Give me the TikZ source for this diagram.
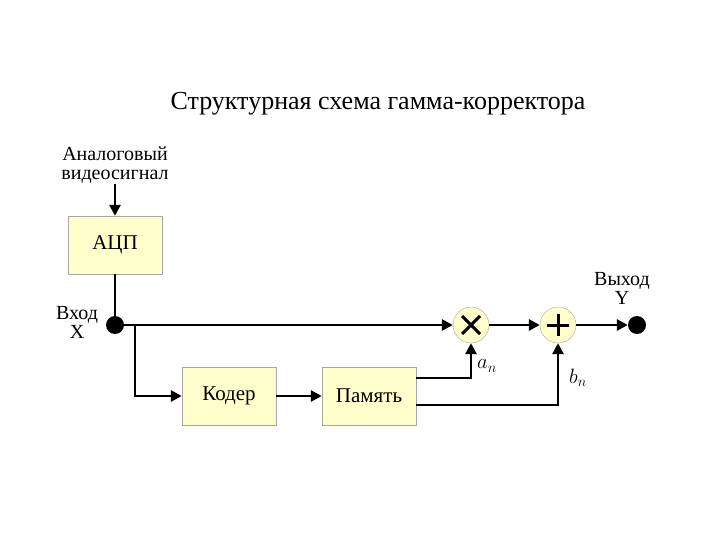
\documentclass[tikz,border=0pt]{standalone}
\usepackage{fontspec}
\setmainfont{Liberation Serif}
\usetikzlibrary{arrows.meta}
\definecolor{boxfill}{RGB}{255,255,204}
\begin{document}
\begin{tikzpicture}[x=1pt,y=-1pt,
 blk/.style={draw=gray!70,fill=boxfill,minimum width=94pt,minimum height=58pt,font=\fontsize{21}{23}\selectfont},
 op/.style={circle,draw=gray!70,fill=boxfill,minimum size=36pt,inner sep=0pt},
 lbl/.style={font=\fontsize{20}{19}\selectfont,align=center,inner sep=1pt},
 ln/.style={line width=2.8pt},
 arr/.style={ln,-{Triangle[length=11pt,width=11pt]}},
 dot/.style={circle,fill=black,minimum size=18pt,inner sep=0pt}]
\useasboundingbox (0,0) rectangle (720,540);
\node[font=\fontsize{26}{28}\selectfont] (title) at (378,104) {Структурная схема гамма-корректора};
\node[lbl] (src) at (115,165) {Аналоговый\\видеосигнал};
\node[blk] (adc) at (115,245) {АЦП};
\node[dot] (in) at (115,325) {};
\node[lbl] (inl) at (77,322) {Вход\\X};
\node[op] (mul) at (471,325) {};
\draw[line width=3pt] (mul.center)++(-9,-9) -- ++(18,18) (mul.center)++(-9,9) -- ++(18,-18);
\node[op] (sum) at (558,325) {};
\draw[line width=3pt] (sum.center)++(-11,0) -- ++(22,0) (sum.center)++(0,-11) -- ++(0,22);
\node[dot] (out) at (637,325) {};
\node[lbl] (outl) at (622,288) {Выход\\Y};
\node[blk] (cod) at (229,396) {Кодер};
\node[blk] (mem) at (369,396) {Память};
\node[lbl] (an) at (487,366) {$a_n$};
\node[lbl] (bn) at (578,378) {$b_n$};
\coordinate (br) at (135,325);
\draw[arr] (src.south) -- (adc.north);
\draw[ln] (adc.south) -- (in);
\draw[arr] (in) -- (mul);
\draw[arr] (mul) -- (sum);
\draw[arr] (sum) -- (out);
\draw[arr] (br) |- (cod.west);
\draw[arr] (cod) -- (mem);
\draw[arr] ([yshift=18pt]mem.east) -| (mul.south);
\draw[arr] ([yshift=-9pt]mem.east) -| (sum.south);
\end{tikzpicture}
\end{document}
